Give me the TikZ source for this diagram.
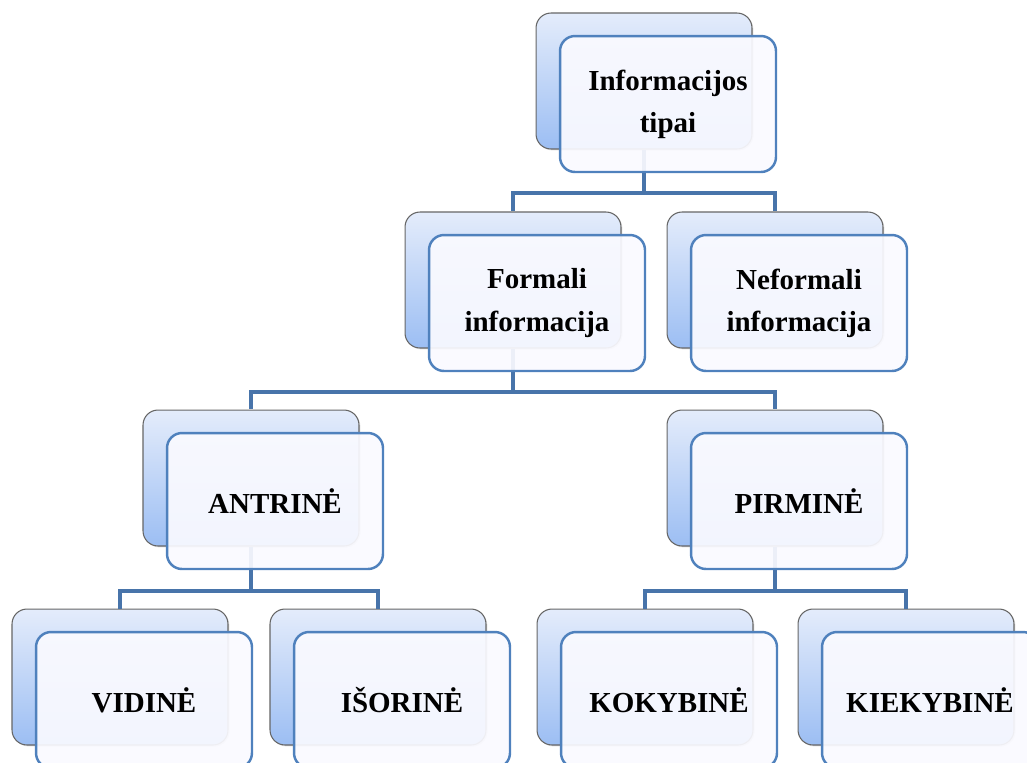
\documentclass[tikz,border=0pt]{standalone}
\usepackage{fontspec}
\setmainfont{Liberation Serif}
\usepackage{tikz}
\usetikzlibrary{shadows}

\definecolor{frameblue}{RGB}{79,129,189}
\definecolor{linkblue}{RGB}{72,116,170}
\definecolor{backtop}{RGB}{228,236,251}
\definecolor{backbot}{RGB}{156,190,243}

\begin{document}
\begin{tikzpicture}[x=0.02cm, y=-0.02cm,
    backbox/.style={rectangle, rounded corners=0.3cm, minimum width=4.32cm, minimum height=2.72cm,
        inner sep=0pt, draw=gray!80!black, line width=0.6pt, top color=backtop, bottom color=backbot,
        drop shadow={opacity=0.25, shadow xshift=0.8pt, shadow yshift=-0.8pt}},
    frontbox/.style={rectangle, rounded corners=0.3cm, minimum width=4.32cm, minimum height=2.72cm,
        inner sep=0pt, draw=frameblue, line width=1.4pt, fill=blue!2, fill opacity=0.92, text opacity=1,
        align=center, font=\bfseries\fontsize{16.5}{24}\selectfont},
    link/.style={draw=linkblue, line width=2.8pt}]

    % Rahmen
    \useasboundingbox (0,0) rectangle (1027,762);
    \clip (0,0) rectangle (1027,762);

    % hintere Kaesten
    \foreach \n/\x/\y in {top/644/81, form/513/280, nform/775/280, antr/251/478, pirm/775/478,
                          vid/120/677, isor/378/677, kok/645/677, kiek/906/677}
        \node[backbox] (\n B) at (\x,\y) {};

    % Sammelleitungen
    \coordinate (bus1) at (0,193);
    \coordinate (bus2) at (0,392);
    \coordinate (bus3) at (0,591);

    % Verbindungen
    \draw[link] (topB.south) -- (topB.south |- bus1) -| (formB.north);
    \draw[link] (topB.south |- bus1) -| (nformB.north);
    \draw[link] (formB.south) -- (formB.south |- bus2) -| (antrB.north);
    \draw[link] (formB.south |- bus2) -| (pirmB.north);
    \draw[link] (antrB.south) -- (antrB.south |- bus3) -| (vidB.north);
    \draw[link] (antrB.south |- bus3) -| (isorB.north);
    \draw[link] (pirmB.south) -- (pirmB.south |- bus3) -| (kokB.north);
    \draw[link] (pirmB.south |- bus3) -| (kiekB.north);

    % vordere Kaesten mit Text
    \foreach \n/\t in {top/{Informacijos\\tipai}, form/{Formali\\informacija}, nform/{Neformali\\informacija},
                       antr/ANTRINĖ, pirm/PIRMINĖ, vid/VIDINĖ, isor/IŠORINĖ, kok/KOKYBINĖ, kiek/KIEKYBINĖ}
        \node[frontbox] (\n F) at ([shift={(24,23)}]\n B) {\t};
\end{tikzpicture}
\end{document}
